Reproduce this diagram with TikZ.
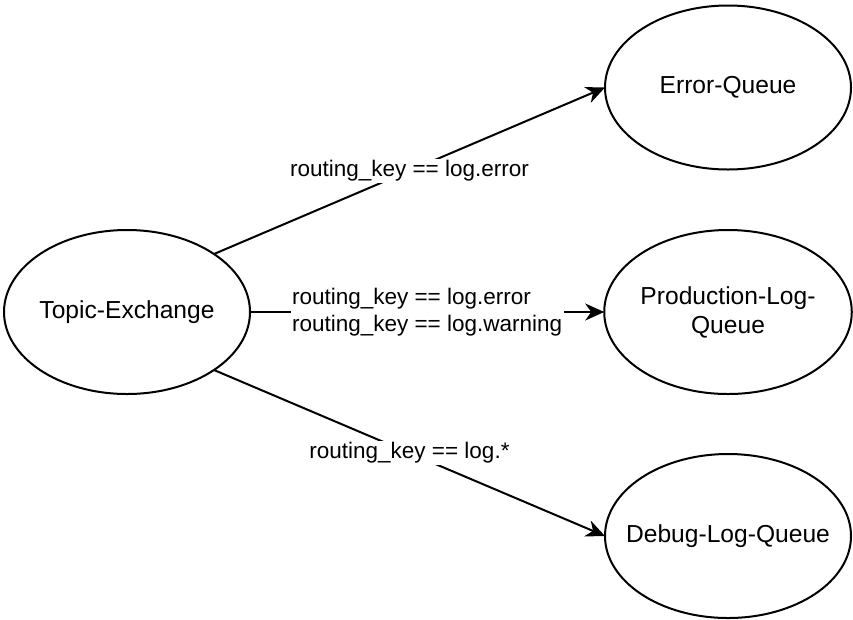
\documentclass[tikz,border=0pt]{standalone}
\usepackage{fontspec}
\setmainfont{Liberation Sans}
\usetikzlibrary{shapes.geometric,arrows.meta}
\begin{document}
\begin{tikzpicture}[x=1pt,y=-1pt,
  queue/.style={ellipse, draw, line width=2pt, minimum width=246pt, minimum height=164pt, inner sep=0pt, outer sep=0pt, align=center, font=\fontsize{24.6}{29}\selectfont},
  conn/.style={line width=2pt, -{Stealth[length=19pt,width=17pt,inset=6pt]}},
  lbl/.style={fill=white, inner sep=1.5pt, font=\fontsize{22.5}{27}\selectfont}]
\useasboundingbox (0,0) rectangle (853,619);
\node[queue] (topic) at (127,312) {\makebox[0pt]{Topic-Exchange}};
\node[queue] (err) at (728,87.5) {\makebox[0pt]{Error-Queue}};
\node[queue] (prod) at (728,312) {Production-Log-\\Queue};
\node[queue] (dbg) at (728,536) {\makebox[0pt]{Debug-Log-Queue}};
\draw[conn] (topic.north east) -- node[lbl] {routing\_key == log.error} (err.west);
\draw[conn] (topic.east) -- node[lbl, align=left] {routing\_key == log.error\\routing\_key == log.warning} (prod.west);
\draw[conn] (topic.south east) -- node[lbl] {routing\_key == log.*} (dbg.west);
\end{tikzpicture}
\end{document}
